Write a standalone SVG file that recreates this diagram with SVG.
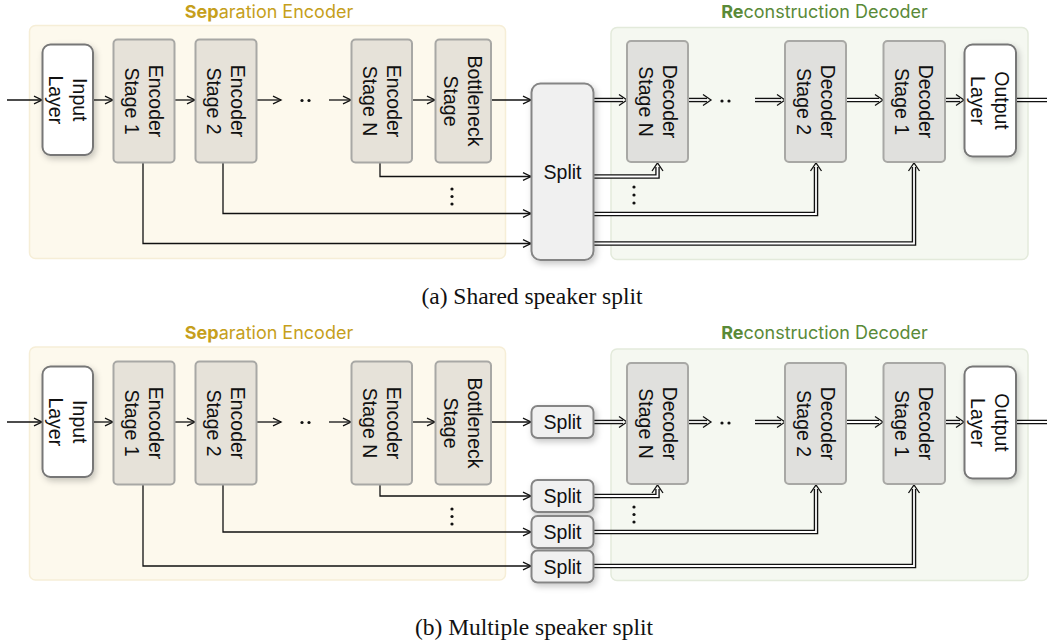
<svg xmlns="http://www.w3.org/2000/svg" width="1047" height="640" viewBox="0 0 1047 640">
<defs>
<style>
.genc{fill:#fdf9ed;stroke:#f6eed7;stroke-width:1.5}
.gdec{fill:#f5f8f1;stroke:#e3eadb;stroke-width:1.5}
.enc{fill:#e6e2d9;stroke:#a8a8a5;stroke-width:2}
.dec{fill:#e0e0dd;stroke:#a8a8a5;stroke-width:2}
.io{fill:#fff;stroke:#777;stroke-width:2;filter:url(#sh)}
.sp{fill:#f0f0f0;stroke:#858585;stroke-width:2;filter:url(#sh)}
.lbl{font-family:"Liberation Sans",Arial,sans-serif;font-size:19.5px;fill:#111;text-anchor:middle}
.tE{font-family:Inter,"Liberation Sans",sans-serif;font-size:18px;fill:#c69f1c;text-anchor:middle}
.tD{font-family:Inter,"Liberation Sans",sans-serif;font-size:18px;fill:#5a8a38;text-anchor:middle}
.cap{font-family:"Liberation Serif","Times New Roman",serif;font-size:23.5px;fill:#111;text-anchor:middle}
.c{fill:none;stroke:#111;stroke-width:1.3;marker-end:url(#a)}
.d{fill:none;stroke:#111;stroke-width:4.5;marker-end:url(#dh)}
.di{fill:none;stroke:#fff;stroke-width:1.8}
.dot{fill:#111}
</style>
<filter id="sh" x="-30%" y="-30%" width="170%" height="170%">
<feDropShadow dx="2" dy="3" stdDeviation="3" flood-color="#000" flood-opacity="0.22"/>
</filter>
<marker id="a" markerUnits="userSpaceOnUse" markerWidth="12" markerHeight="12" viewBox="0 -6 10 12" refX="8" refY="0" orient="auto" overflow="visible">
<path d="M0,-3.8 L8,0 L0,3.8" fill="none" stroke="#111" stroke-width="1.3"/>
</marker>
<marker id="dh" markerUnits="userSpaceOnUse" markerWidth="14" markerHeight="14" viewBox="0 -7 12 14" refX="4" refY="0" orient="auto" overflow="visible">
<path d="M0,-5.5 L8,0 L0,5.5" fill="none" stroke="#111" stroke-width="1.3"/>
</marker>
</defs>
<rect width="1047" height="640" fill="#fff"/>

<!-- ===== Panel (a) ===== -->
<g id="panel-a">
<g id="a-enc-group">
<rect class="genc" x="29.5" y="25.5" width="476" height="233" rx="6"/>
<text class="tE" x="269" y="17.5"><tspan font-weight="700">Sep</tspan>aration Encoder</text>
</g>
<g id="a-dec-group">
<rect class="gdec" x="611" y="27.5" width="417" height="232" rx="6"/>
<text class="tD" x="824.5" y="17.5"><tspan font-weight="700">Re</tspan>construction Decoder</text>
</g>

<g id="a-connectors">
<path class="c" d="M7,100 H42"/>
<path class="c" d="M93,100 H113"/>
<path class="c" d="M175,100 H195"/>
<path class="c" d="M256,100 H281"/>
<path class="c" d="M329,100 H351"/>
<path class="c" d="M412,100 H435"/>
<path class="c" d="M491,100 H531"/>
<path class="c" d="M380,163 V176.5 H531"/>
<path class="c" d="M223,163 V213.5 H531"/>
<path class="c" d="M143,163 V243.5 H531"/>
<path class="d" d="M594,100 H623"/><path class="di" d="M594,100 H623"/>
<path class="d" d="M689,100 H707"/><path class="di" d="M689,100 H707"/>
<path class="d" d="M755,100 H781"/><path class="di" d="M755,100 H781"/>
<path class="d" d="M846,100 H879"/><path class="di" d="M846,100 H879"/>
<path class="d" d="M945,100 H960"/><path class="di" d="M945,100 H960"/>
<path class="d" d="M1016,100 H1052"/><path class="di" d="M1016,100 H1052"/>
<path class="d" d="M594,176.5 H657.5 V167"/><path class="di" d="M594,176.5 H657.5 V167"/>
<path class="d" d="M594,214 H816 V167"/><path class="di" d="M594,214 H816 V167"/>
<path class="d" d="M594,243.5 H914 V167"/><path class="di" d="M594,243.5 H914 V167"/>
<circle class="dot" cx="302" cy="100.5" r="1.6"/><circle class="dot" cx="309" cy="100.5" r="1.6"/>
<circle class="dot" cx="722" cy="101" r="1.6"/><circle class="dot" cx="729" cy="101" r="1.6"/>
<circle class="dot" cx="452" cy="189" r="1.6"/><circle class="dot" cx="452" cy="196.5" r="1.6"/><circle class="dot" cx="452" cy="204" r="1.6"/>
<circle class="dot" cx="634" cy="187" r="1.6"/><circle class="dot" cx="634" cy="195" r="1.6"/><circle class="dot" cx="634" cy="203" r="1.6"/>
</g>

<g id="a-input"><rect class="io" x="42.5" y="44.5" width="50.5" height="110.5" rx="8"/>
<text class="lbl" transform="translate(67.7,99.8) rotate(90)"><tspan x="0" y="-5">Input</tspan><tspan x="0" y="19">Layer</tspan></text></g>
<g id="a-enc1"><rect class="enc" x="113.5" y="39.5" width="61" height="123" rx="4"/>
<text class="lbl" transform="translate(144,101) rotate(90)"><tspan x="0" y="-5">Encoder</tspan><tspan x="0" y="19">Stage 1</tspan></text></g>
<g id="a-enc2"><rect class="enc" x="195.5" y="39.5" width="61" height="123" rx="4"/>
<text class="lbl" transform="translate(226,101) rotate(90)"><tspan x="0" y="-5">Encoder</tspan><tspan x="0" y="19">Stage 2</tspan></text></g>
<g id="a-encN"><rect class="enc" x="351.5" y="39.5" width="60.5" height="123" rx="4"/>
<text class="lbl" transform="translate(381.7,101) rotate(90)"><tspan x="0" y="-5">Encoder</tspan><tspan x="0" y="19">Stage N</tspan></text></g>
<g id="a-bottleneck"><rect class="enc" x="435.5" y="39.5" width="55.5" height="123" rx="4"/>
<text class="lbl" transform="translate(463.2,101) rotate(90)"><tspan x="0" y="-5">Bottleneck</tspan><tspan x="0" y="19">Stage</tspan></text></g>
<g id="a-split"><rect class="sp" x="531.5" y="83.5" width="62" height="176.5" rx="9"/>
<text class="lbl" x="562.5" y="178.5">Split</text></g>
<g id="a-decN"><rect class="dec" x="627" y="41" width="61" height="121" rx="4"/>
<text class="lbl" transform="translate(657.5,101.5) rotate(90)"><tspan x="0" y="-5">Decoder</tspan><tspan x="0" y="19">Stage N</tspan></text></g>
<g id="a-dec2"><rect class="dec" x="785" y="41" width="61" height="121" rx="4"/>
<text class="lbl" transform="translate(815.5,101.5) rotate(90)"><tspan x="0" y="-5">Decoder</tspan><tspan x="0" y="19">Stage 2</tspan></text></g>
<g id="a-dec1"><rect class="dec" x="883.5" y="41" width="61.5" height="121" rx="4"/>
<text class="lbl" transform="translate(914.2,101.5) rotate(90)"><tspan x="0" y="-5">Decoder</tspan><tspan x="0" y="19">Stage 1</tspan></text></g>
<g id="a-output"><rect class="io" x="964.5" y="44.5" width="51.5" height="112" rx="8"/>
<text class="lbl" transform="translate(990.2,100.5) rotate(90)"><tspan x="0" y="-5">Output</tspan><tspan x="0" y="19">Layer</tspan></text></g>

<text id="cap-a" class="cap" x="532" y="303.5">(a) Shared speaker split</text>
</g>

<!-- ===== Panel (b) ===== -->
<g id="panel-b" transform="translate(0,322)">
<g id="b-enc-group">
<rect class="genc" x="29.5" y="25" width="476" height="233" rx="6"/>
<text class="tE" x="269" y="16.5"><tspan font-weight="700">Sep</tspan>aration Encoder</text>
</g>
<g id="b-dec-group">
<rect class="gdec" x="611" y="27" width="417" height="231.5" rx="6"/>
<text class="tD" x="824.5" y="16.5"><tspan font-weight="700">Re</tspan>construction Decoder</text>
</g>

<g id="b-connectors">
<path class="c" d="M7,100 H42"/>
<path class="c" d="M93,100 H113"/>
<path class="c" d="M175,100 H195"/>
<path class="c" d="M256,100 H281"/>
<path class="c" d="M329,100 H351"/>
<path class="c" d="M412,100 H435"/>
<path class="c" d="M491,100 H531"/>
<path class="c" d="M380,163 V174 H531"/>
<path class="c" d="M223,163 V210 H531"/>
<path class="c" d="M143,163 V244 H531"/>
<path class="d" d="M594,100 H623"/><path class="di" d="M594,100 H623"/>
<path class="d" d="M689,100 H707"/><path class="di" d="M689,100 H707"/>
<path class="d" d="M755,100 H781"/><path class="di" d="M755,100 H781"/>
<path class="d" d="M846,100 H879"/><path class="di" d="M846,100 H879"/>
<path class="d" d="M945,100 H960"/><path class="di" d="M945,100 H960"/>
<path class="d" d="M1016,100 H1052"/><path class="di" d="M1016,100 H1052"/>
<path class="d" d="M594,174 H657.5 V167"/><path class="di" d="M594,174 H657.5 V167"/>
<path class="d" d="M594,210 H816 V167"/><path class="di" d="M594,210 H816 V167"/>
<path class="d" d="M594,244 H914 V167"/><path class="di" d="M594,244 H914 V167"/>
<circle class="dot" cx="302" cy="100.5" r="1.6"/><circle class="dot" cx="309" cy="100.5" r="1.6"/>
<circle class="dot" cx="722" cy="101" r="1.6"/><circle class="dot" cx="729" cy="101" r="1.6"/>
<circle class="dot" cx="452" cy="187" r="1.6"/><circle class="dot" cx="452" cy="194.5" r="1.6"/><circle class="dot" cx="452" cy="202" r="1.6"/>
<circle class="dot" cx="634" cy="185" r="1.6"/><circle class="dot" cx="634" cy="192.5" r="1.6"/><circle class="dot" cx="634" cy="200" r="1.6"/>
</g>

<g id="b-input"><rect class="io" x="42.5" y="44.5" width="50.5" height="110.5" rx="8"/>
<text class="lbl" transform="translate(67.7,99.8) rotate(90)"><tspan x="0" y="-5">Input</tspan><tspan x="0" y="19">Layer</tspan></text></g>
<g id="b-enc1"><rect class="enc" x="113.5" y="39.5" width="61" height="123" rx="4"/>
<text class="lbl" transform="translate(144,101) rotate(90)"><tspan x="0" y="-5">Encoder</tspan><tspan x="0" y="19">Stage 1</tspan></text></g>
<g id="b-enc2"><rect class="enc" x="195.5" y="39.5" width="61" height="123" rx="4"/>
<text class="lbl" transform="translate(226,101) rotate(90)"><tspan x="0" y="-5">Encoder</tspan><tspan x="0" y="19">Stage 2</tspan></text></g>
<g id="b-encN"><rect class="enc" x="351.5" y="39.5" width="60.5" height="123" rx="4"/>
<text class="lbl" transform="translate(381.7,101) rotate(90)"><tspan x="0" y="-5">Encoder</tspan><tspan x="0" y="19">Stage N</tspan></text></g>
<g id="b-bottleneck"><rect class="enc" x="435.5" y="39.5" width="55.5" height="123" rx="4"/>
<text class="lbl" transform="translate(463.2,101) rotate(90)"><tspan x="0" y="-5">Bottleneck</tspan><tspan x="0" y="19">Stage</tspan></text></g>
<g id="b-split1"><rect class="sp" x="531.5" y="84" width="62" height="32" rx="6"/>
<text class="lbl" x="562.5" y="107">Split</text></g>
<g id="b-split2"><rect class="sp" x="531.5" y="158" width="62" height="32" rx="6"/>
<text class="lbl" x="562.5" y="181">Split</text></g>
<g id="b-split3"><rect class="sp" x="531.5" y="194" width="62" height="32" rx="6"/>
<text class="lbl" x="562.5" y="217">Split</text></g>
<g id="b-split4"><rect class="sp" x="531.5" y="228.5" width="62" height="32" rx="6"/>
<text class="lbl" x="562.5" y="251.5">Split</text></g>
<g id="b-decN"><rect class="dec" x="627" y="41" width="61" height="121" rx="4"/>
<text class="lbl" transform="translate(657.5,101.5) rotate(90)"><tspan x="0" y="-5">Decoder</tspan><tspan x="0" y="19">Stage N</tspan></text></g>
<g id="b-dec2"><rect class="dec" x="785" y="41" width="61" height="121" rx="4"/>
<text class="lbl" transform="translate(815.5,101.5) rotate(90)"><tspan x="0" y="-5">Decoder</tspan><tspan x="0" y="19">Stage 2</tspan></text></g>
<g id="b-dec1"><rect class="dec" x="883.5" y="41" width="61.5" height="121" rx="4"/>
<text class="lbl" transform="translate(914.2,101.5) rotate(90)"><tspan x="0" y="-5">Decoder</tspan><tspan x="0" y="19">Stage 1</tspan></text></g>
<g id="b-output"><rect class="io" x="964.5" y="44.5" width="51.5" height="112" rx="8"/>
<text class="lbl" transform="translate(990.2,100.5) rotate(90)"><tspan x="0" y="-5">Output</tspan><tspan x="0" y="19">Layer</tspan></text></g>

<text id="cap-b" class="cap" x="534" y="313">(b) Multiple speaker split</text>
</g>
</svg>
